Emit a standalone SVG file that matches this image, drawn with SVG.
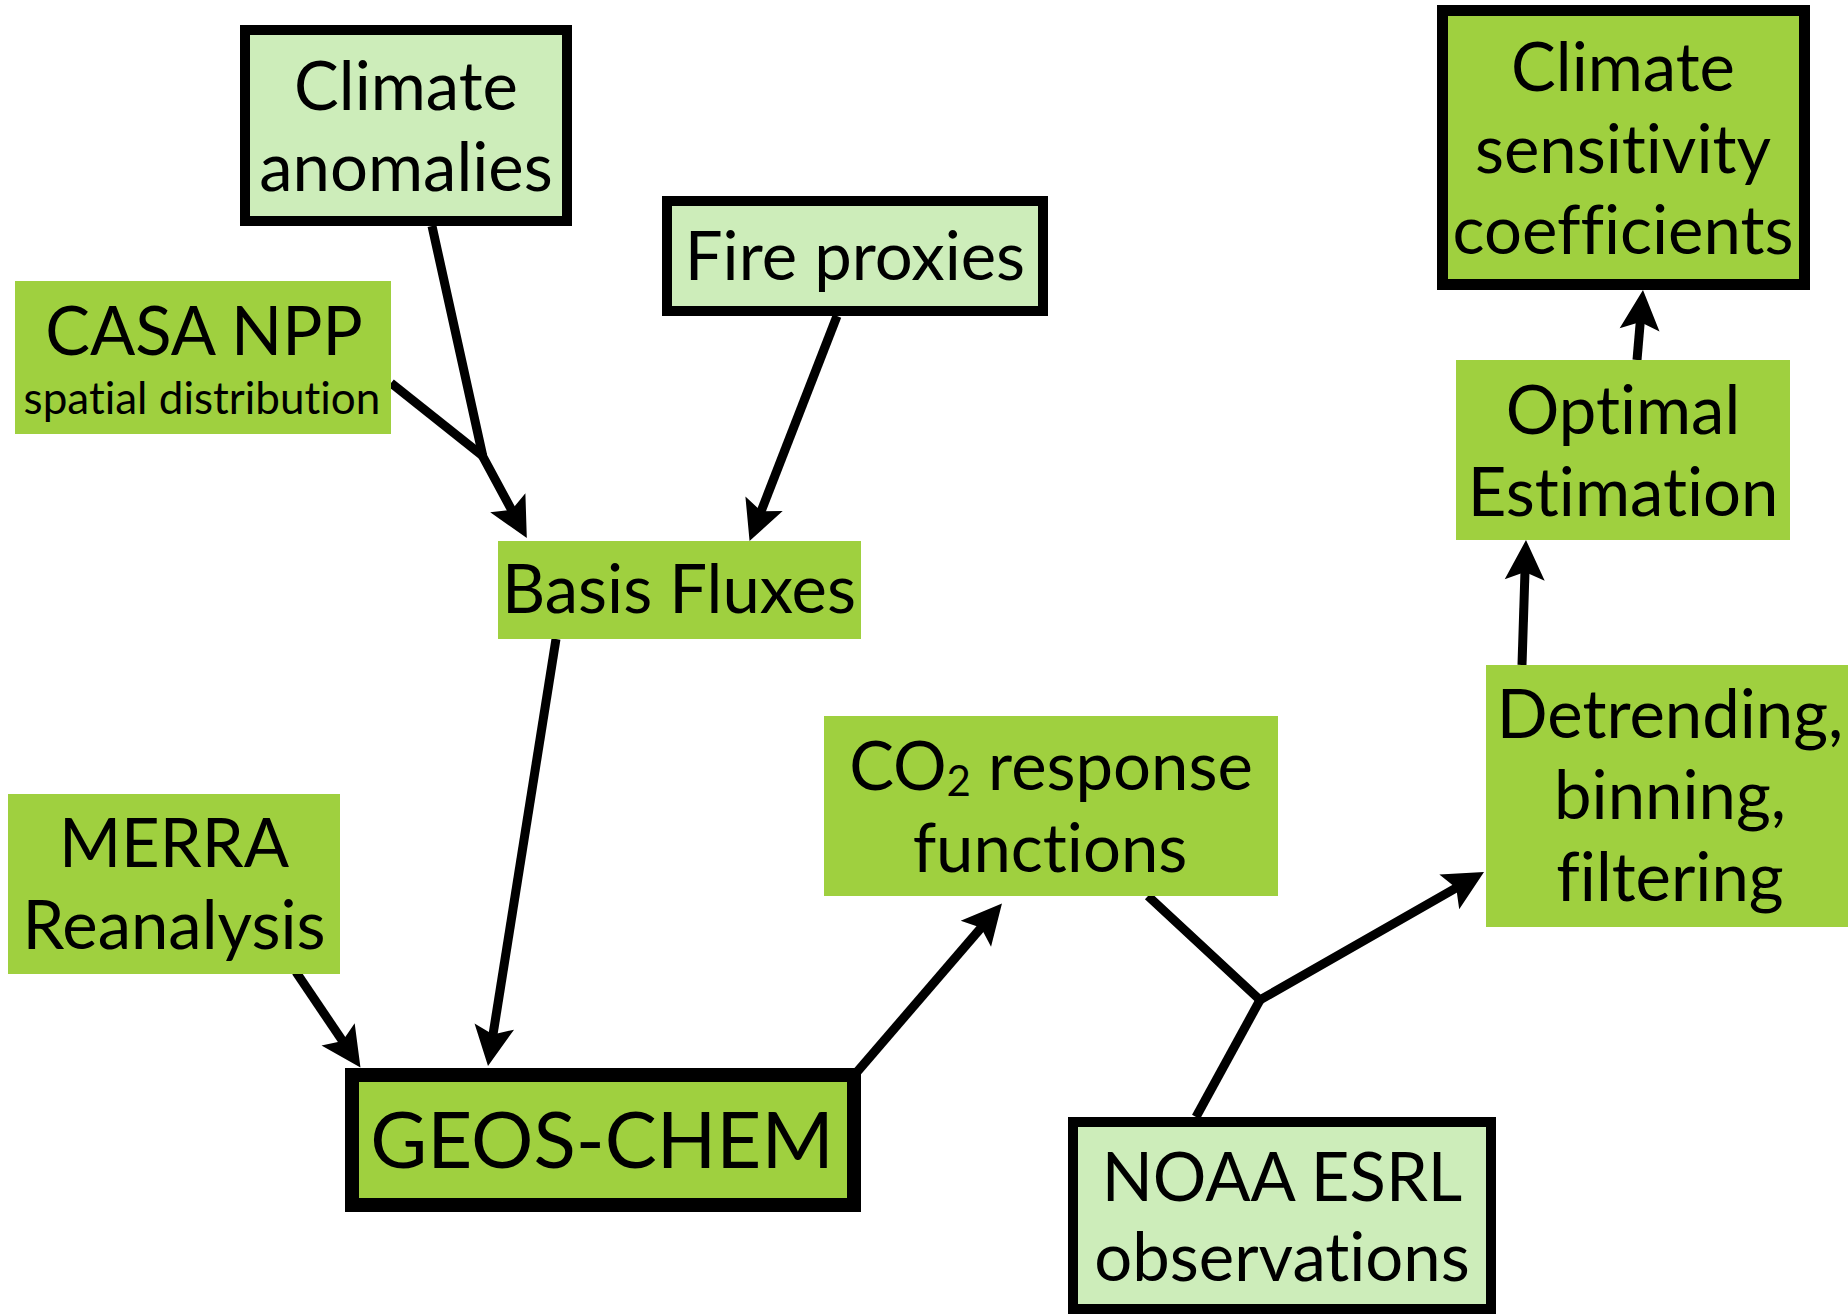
<svg xmlns="http://www.w3.org/2000/svg" width="1848" height="1314" viewBox="0 0 1848 1314">
<style>
.dark{fill:#9FD03F}
.light{fill:#CDEDBA}
.bd{stroke:#000;stroke-width:10}
.t{font-family:Lato,"Liberation Sans",sans-serif;font-size:67px;fill:#000;text-anchor:middle;font-variant-ligatures:none;font-feature-settings:"liga" 0,"clig" 0}
.s{font-size:44px}
.big{font-size:78px}
.c{fill:none;stroke:#000;stroke-width:9;stroke-linejoin:miter}
</style>
<defs>
<marker id="ah" markerUnits="userSpaceOnUse" markerWidth="40" markerHeight="40" refX="12" refY="0" orient="auto" overflow="visible">
<path d="M0,-20 L40,0 L0,20 L8,0 Z" fill="#000"/>
</marker>
</defs>
<rect x="0" y="0" width="1848" height="1314" fill="#fff"/>
<g id="connectors">
<path class="c" d="M432,226 L483,457 L513.5,513.4" marker-end="url(#ah)"/>
<path class="c" d="M391,383 L484,457"/>
<path class="c" d="M837,316 L759.7,514.9" marker-end="url(#ah)"/>
<path class="c" d="M556,639 L492.4,1038.4" marker-end="url(#ah)"/>
<path class="c" d="M296,972 L344.8,1044.3" marker-end="url(#ah)"/>
<path class="c" d="M857,1072 L983.7,924.7" marker-end="url(#ah)"/>
<path class="c" d="M1148,896 L1260,1000 L1459.7,885.9" marker-end="url(#ah)"/>
<path class="c" d="M1196,1117 L1260,1000"/>
<path class="c" d="M1522,665 L1525.1,568" marker-end="url(#ah)"/>
<path class="c" d="M1637,360 L1640.6,317.9" marker-end="url(#ah)"/>
</g>
<g id="climate-anomalies">
<rect class="light bd" x="245" y="30" width="322" height="191"/>
<text class="t" x="406" y="110">Climate</text>
<text class="t" x="406" y="191">anomalies</text>
</g>
<g id="casa-npp">
<rect class="dark" x="15" y="281" width="376" height="153"/>
<text class="t" x="204" y="355">CASA NPP</text>
<text class="t s" x="202" y="414">spatial distribution</text>
</g>
<g id="fire-proxies">
<rect class="light bd" x="667" y="201" width="376" height="110"/>
<text class="t" x="855" y="280">Fire proxies</text>
</g>
<g id="basis-fluxes">
<rect class="dark" x="498" y="541" width="363" height="98"/>
<text class="t" x="679" y="613">Basis Fluxes</text>
</g>
<g id="merra">
<rect class="dark" x="8" y="794" width="332" height="180"/>
<text class="t" x="174" y="867">MERRA</text>
<text class="t" x="174" y="949">Reanalysis</text>
</g>
<g id="geos-chem">
<rect class="dark" x="352" y="1075" width="502" height="130" stroke="#000" stroke-width="14"/>
<text class="t big" x="602" y="1168">GEOS-CHEM</text>
</g>
<g id="co2-response">
<rect class="dark" x="824" y="716" width="454" height="180"/>
<text class="t" x="1051" y="790">CO<tspan font-size="42" dy="6">2</tspan><tspan dy="-6"> response</tspan></text>
<text class="t" x="1050" y="872">functions</text>
</g>
<g id="noaa-esrl">
<rect class="light bd" x="1073" y="1122" width="418" height="187"/>
<text class="t" x="1282" y="1201">NOAA ESRL</text>
<text class="t" x="1282" y="1281">observations</text>
</g>
<g id="detrending">
<rect class="dark" x="1486" y="665" width="370" height="262"/>
<text class="t" x="1670" y="738">Detrending,</text>
<text class="t" x="1670" y="819">binning,</text>
<text class="t" x="1670" y="901">filtering</text>
</g>
<g id="optimal-estimation">
<rect class="dark" x="1456" y="360" width="334" height="180"/>
<text class="t" x="1623" y="434">Optimal</text>
<text class="t" x="1623" y="516">Estimation</text>
</g>
<g id="climate-sensitivity">
<rect class="dark" x="1442.5" y="10.5" width="362" height="274" stroke="#000" stroke-width="11"/>
<text class="t" x="1623" y="91">Climate</text>
<text class="t" x="1623" y="173">sensitivity</text>
<text class="t" x="1623" y="254">coefficients</text>
</g>
</svg>
